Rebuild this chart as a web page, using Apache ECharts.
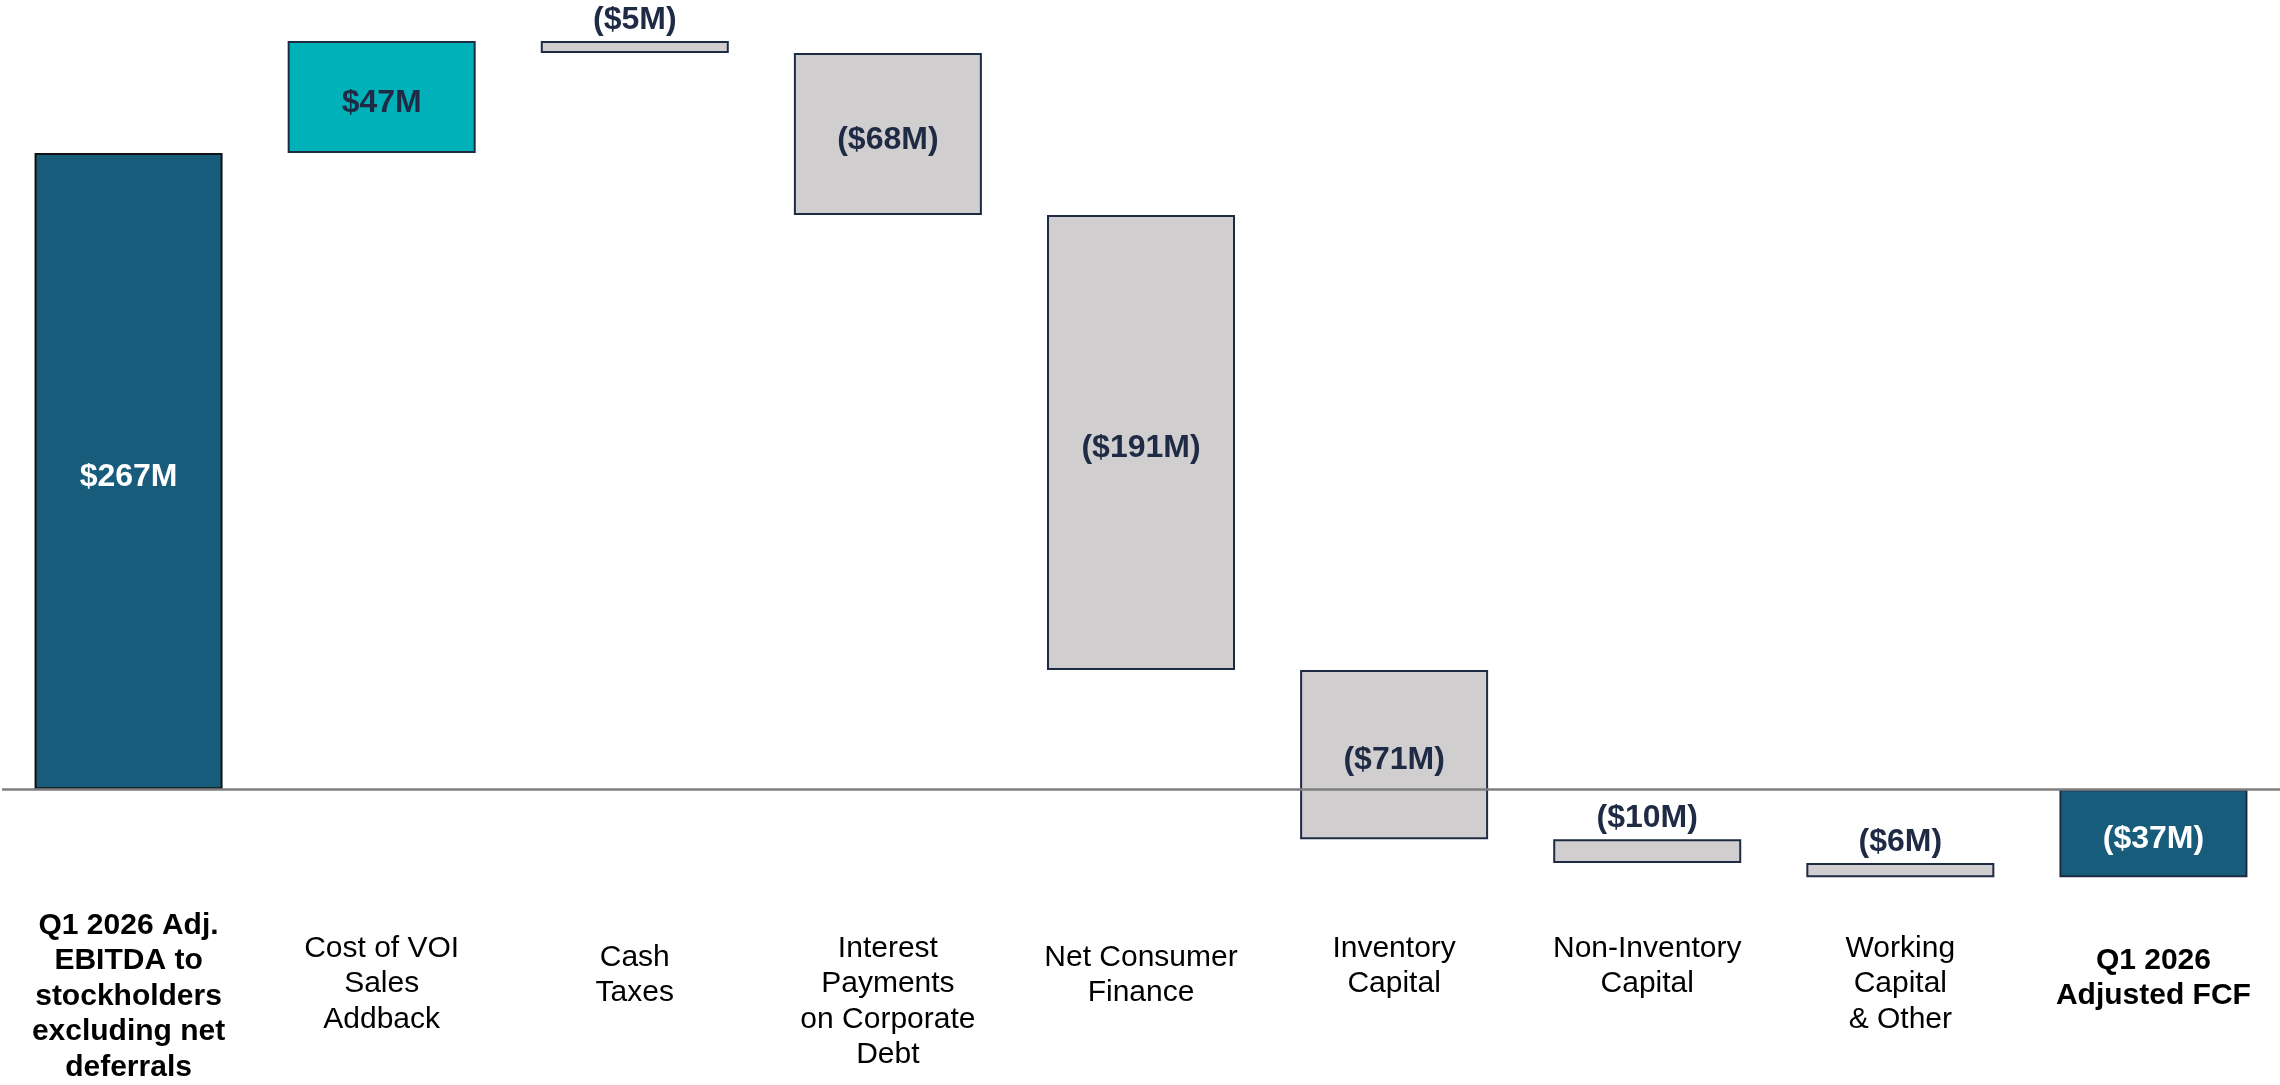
<!DOCTYPE html>
<html>
<head>
<meta charset="utf-8">
<script src="https://cdn.jsdelivr.net/npm/echarts@6/dist/echarts.min.js"></script>
<style>
html, body { margin: 0; padding: 0; background: #fff; }
#chart { width: 2280px; height: 1085px; }
</style>
</head>
<body>
<div id="chart"></div>
<script>
// waterfall data ($M)
const categories = [
  'Q1 2026 Adj.\nEBITDA to\nstockholders\nexcluding net\ndeferrals',
  'Cost of VOI\nSales\nAddback',
  'Cash\nTaxes',
  'Interest\nPayments\non Corporate\nDebt',
  'Net Consumer\nFinance',
  'Inventory\nCapital',
  'Non-Inventory\nCapital',
  'Working\nCapital\n& Other',
  'Q1 2026\nAdjusted FCF'
];
const changes = [267, 47, -5, -68, -191, -71, -10, -6, -37];
const valueLabels = ['$267M', '$47M', '($5M)', '($68M)', '($191M)', '($71M)', '($10M)', '($6M)', '($37M)'];
const kinds = ['total', 'up', 'down', 'down', 'down', 'down', 'down', 'down', 'total'];

// styling
const fills = { total: '#185c7b', up: '#00b1b9', down: '#d0cecf' };
const labelTop = [0, 23, 32, 23, 32, 23, 23, 23, 35];
const outsideLabel = [false, false, true, false, false, false, true, true, false];

// running start of each bar
let run = 0;
const bases = changes.map((v, i) => {
  if (kinds[i] === 'total') { run = v; return 0; }
  const b = run;
  run += v;
  return b;
});

let myChart = echarts.init(document.getElementById('chart'));
myChart.setOption({
  animation: false,
  grid: { left: 2, right: 0, top: 3, bottom: 197 },
  xAxis: {
    type: 'category',
    data: categories.map((c, i) => ({
      value: c,
      textStyle: {
        fontWeight: (kinds[i] === 'total') ? 'bold' : 'normal',
        padding: [labelTop[i], 0, 0, 0]
      }
    })),
    axisLine: { show: false, onZero: false },
    axisTick: { show: false },
    axisLabel: {
      interval: 0,
      margin: 23,
      fontFamily: 'Liberation Sans, Arial, sans-serif',
      fontSize: 30,
      lineHeight: 35.5,
      color: '#000'
    }
  },
  yAxis: {
    type: 'value',
    min: -40,
    max: 330,
    show: false,
    splitLine: { show: false }
  },
  series: [
    {
      name: 'base',
      type: 'bar',
      stack: 'wf',
      stackStrategy: 'all',
      barWidth: 188,
      silent: true,
      itemStyle: { color: 'transparent' },
      data: bases
    },
    {
      name: 'change',
      type: 'bar',
      stack: 'wf',
      stackStrategy: 'all',
      barWidth: 188,
      data: changes.map((v, i) => ({
        value: v,
        itemStyle: {
          color: fills[kinds[i]],
          borderColor: i === 0 ? '#111' : '#1e2b45',
          borderWidth: 2
        },
        label: {
          show: true,
          position: outsideLabel[i] ? 'top' : 'inside',
          distance: 6,
          offset: outsideLabel[i] ? [0, 1] : [0, 6],
          formatter: valueLabels[i],
          color: kinds[i] === 'total' ? '#fff' : '#1f2a44',
          fontFamily: 'Liberation Sans, Arial, sans-serif',
          fontWeight: 'bold',
          fontSize: 32
        }
      })),
      markLine: {
        silent: true,
        symbol: 'none',
        label: { show: false },
        lineStyle: { color: '#7f7f7f', width: 2.5, type: 'solid' },
        data: [{ yAxis: 0 }]
      }
    }
  ]
});
</script>
</body>
</html>
